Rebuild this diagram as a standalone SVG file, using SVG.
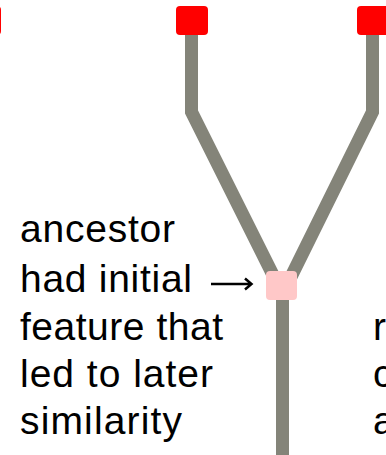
<svg xmlns="http://www.w3.org/2000/svg" width="386" height="455" viewBox="0 0 386 455">
<style>
.branch{fill:none;stroke:#848479;stroke-width:13;stroke-linejoin:miter;stroke-linecap:butt}
.tip{fill:#ff0000}
.anc{fill:#ffc8c8}
.lbl{font-family:"Liberation Sans",Arial,sans-serif;font-size:39px;fill:#000}
.arw{fill:none;stroke:#000;stroke-width:2.5}
</style>
<rect width="386" height="455" fill="#fff"/>
<g id="connectors">
<path class="branch" d="M191.5 35 V112 L282.5 294"/>
<path class="branch" d="M372.5 35 V112 L282.5 294"/>
<path class="branch" d="M282.5 294 V455"/>
<path class="arw" d="M211 284 H251 M245 278.5 L251.5 284 L245 289.5"/>
</g>
<g id="tip-left"><rect class="tip" x="-31" y="6" width="32" height="29" rx="4"/></g>
<g id="tip-mid"><rect class="tip" x="176" y="6" width="32" height="29" rx="4"/></g>
<g id="tip-right"><rect class="tip" x="357" y="6" width="32" height="29" rx="4"/></g>
<g id="ancestor"><rect class="anc" x="266" y="271" width="31" height="29" rx="4"/></g>
<g id="label">
<text class="lbl" x="20" y="242" textLength="155" lengthAdjust="spacing">ancestor</text>
<text class="lbl" x="20" y="292" textLength="172" lengthAdjust="spacing">had initial</text>
<text class="lbl" x="20" y="340" textLength="203" lengthAdjust="spacing">feature that</text>
<text class="lbl" x="20" y="387" textLength="193" lengthAdjust="spacing">led to later</text>
<text class="lbl" x="20" y="434" textLength="162" lengthAdjust="spacing">similarity</text>
</g>
<g id="label-right">
<text class="lbl" x="373" y="340">r</text>
<text class="lbl" x="373" y="387">c</text>
<text class="lbl" x="373" y="434">a</text>
</g>
</svg>
